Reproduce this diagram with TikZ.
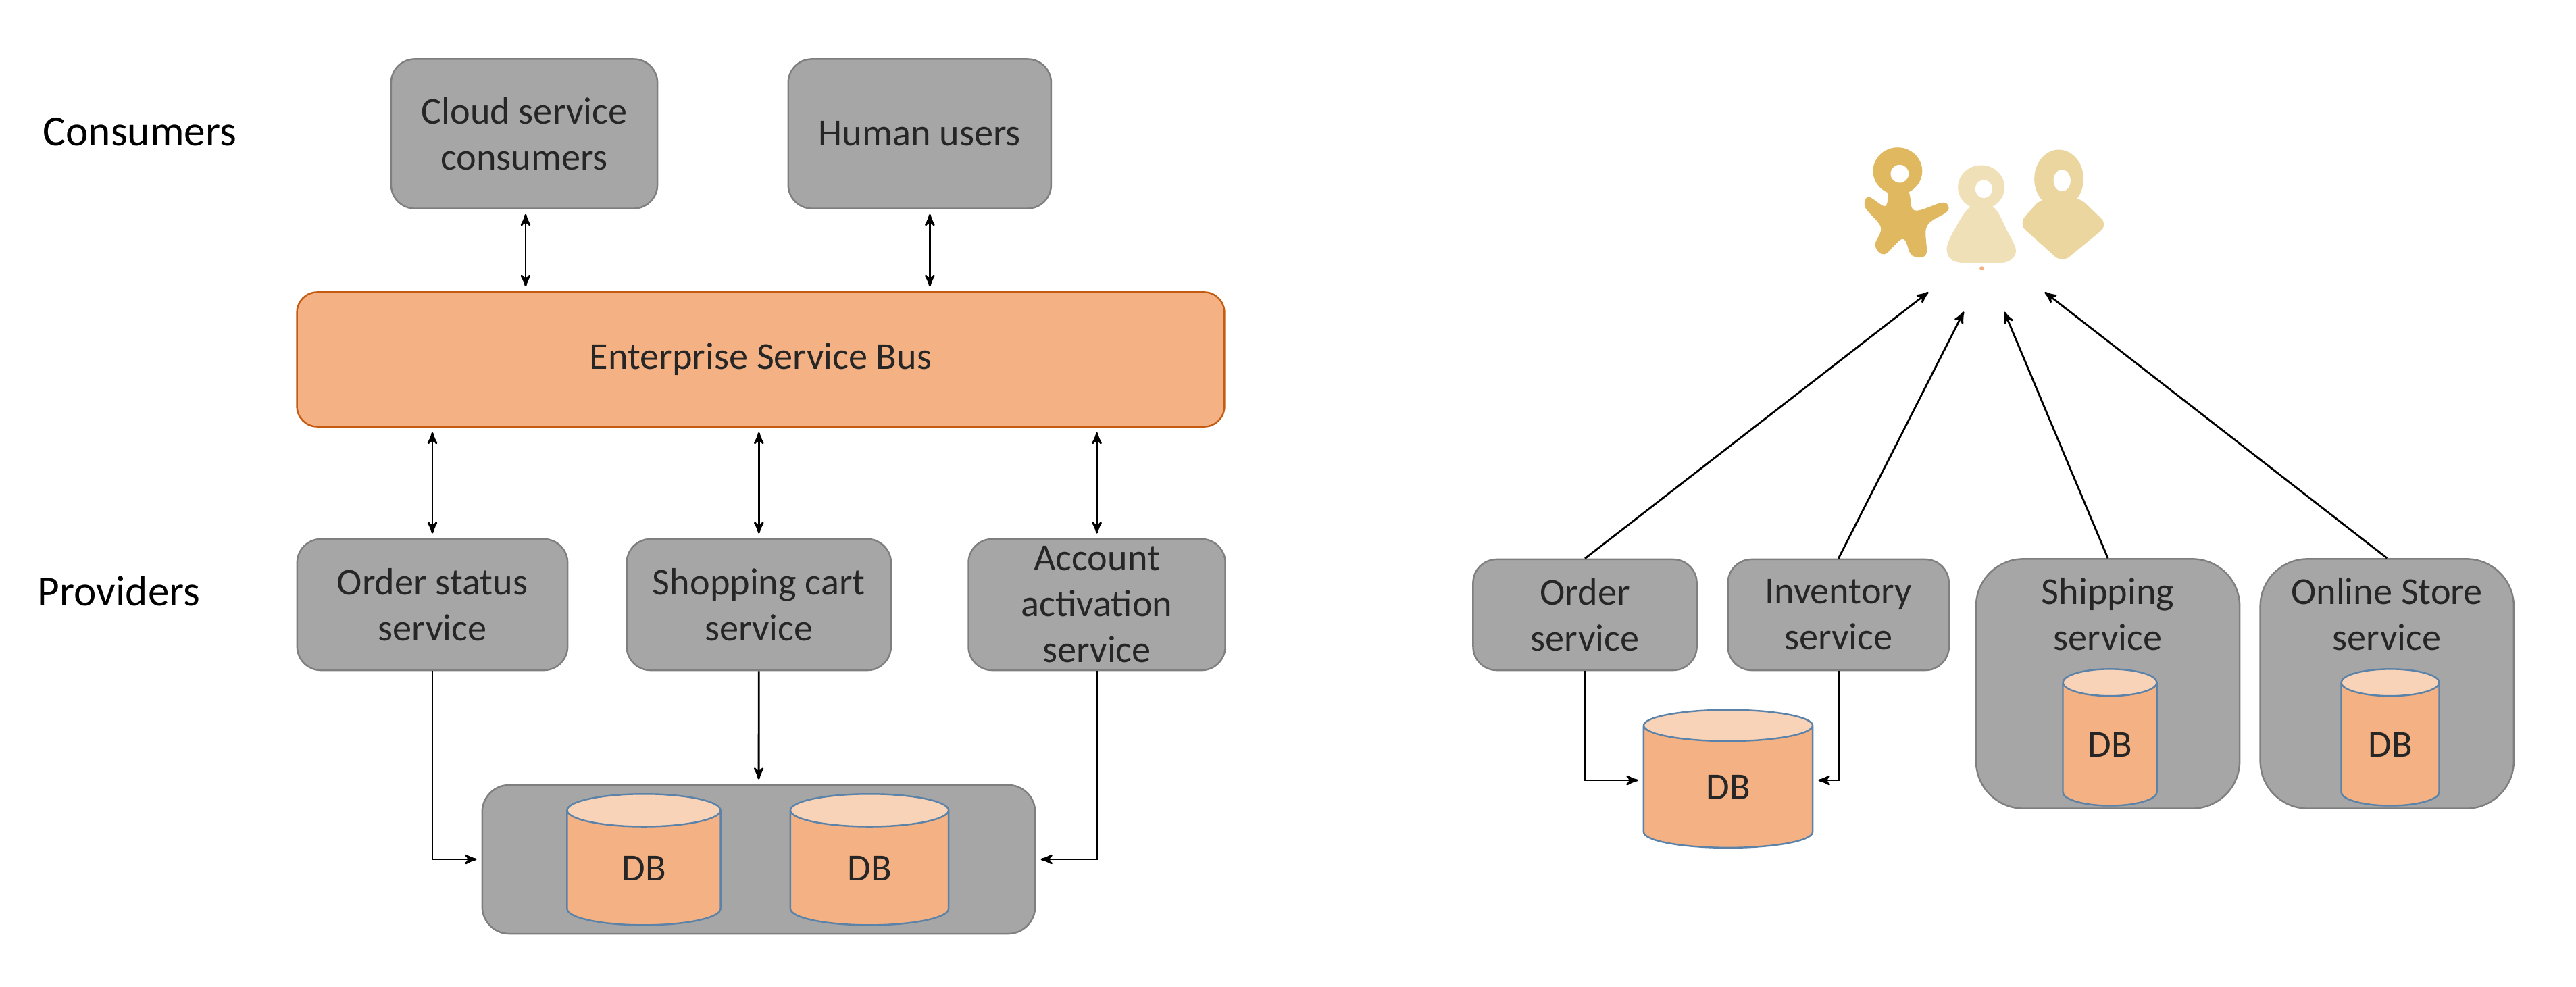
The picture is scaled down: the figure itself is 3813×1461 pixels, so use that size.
\documentclass[tikz,border=0pt]{standalone}
\usepackage{fontspec}
\setmainfont{Carlito}
\usepackage{tikz}
\usetikzlibrary{positioning}
\usetikzlibrary{arrows,shapes.geometric}

\definecolor{boxgray}{HTML}{A6A6A6}
\definecolor{boxline}{HTML}{7F7F7F}
\definecolor{busfill}{HTML}{F4B183}
\definecolor{busline}{HTML}{C55A11}
\definecolor{dbtop}{HTML}{F8D3B8}
\definecolor{dbline}{HTML}{5B82A8}
\definecolor{inktext}{HTML}{262626}
\definecolor{figa}{HTML}{E0B860}
\definecolor{figb}{HTML}{F0E0B8}
\definecolor{figc}{HTML}{EBD6A0}

\tikzset{
  service/.style={draw=boxline,fill=boxgray,line width=0.7pt,rounded corners=0.35cm,
    align=center,inner sep=0pt,minimum height=1.94cm,text=inktext},
  holder/.style={service,rounded corners=0.7cm},
  bus/.style={draw=busline,fill=busfill,line width=0.7pt,rounded corners=0.3cm,
    align=center,inner sep=0pt,text=inktext},
  db/.style={cylinder,shape border rotate=90,draw=dbline,line width=0.7pt,
    cylinder uses custom fill,cylinder body fill=busfill,cylinder end fill=dbtop,
    inner sep=0pt,text=inktext},
  caption/.style={inner sep=0pt,text=black,font=\fontsize{18}{19.3}\selectfont}
}

\begin{document}
\begin{tikzpicture}[x=0.01cm,y=-0.01cm,>=stealth',shorten >=2pt,auto,
    every node/.style={font=\fontsize{16}{19.3}\selectfont}]
  \useasboundingbox (0,0) rectangle (3813,1461);

  \node[caption] (Consumers) at (207,195) {Consumers};
  \node[caption] (Providers) at (176,875) {Providers};

  \node[service,minimum width=3.94cm,minimum height=2.21cm] (Cloud) at (776,198) {Cloud service\\consumers};
  \node[service,minimum width=3.89cm,minimum height=2.21cm] (Human) [right of=Cloud,node distance=5.85cm] {Human users};
  \node[bus,minimum width=13.72cm,minimum height=1.99cm] (Esb) at (1126,532) {Enterprise Service Bus};

  \node[service,minimum width=4cm] (OrderStatus) at (640,895) {Order status\\service};
  \node[service,minimum width=3.91cm] (Cart) [right of=OrderStatus,node distance=4.83cm] {Shopping cart\\service};
  \node[service,minimum width=3.8cm] (Account) [right of=Cart,node distance=5cm] {Account\\activation\\service};

  \node[service,rounded corners=0.4cm,minimum width=8.18cm,minimum height=2.2cm] (Storage) at (1123,1272) {};
  \node[db,aspect=0.74,minimum width=2.27cm,minimum height=1.94cm] (DbOne) at (953,1285) {DB};
  \node[db,aspect=0.74,minimum width=2.34cm,minimum height=1.94cm] (DbTwo) at (1287,1285) {DB};

  \node[service,minimum width=3.31cm,minimum height=1.64cm] (Order) at (2346,910) {Order\\service};
  \node[service,minimum width=3.27cm,minimum height=1.64cm] (Inventory) [right of=Order,node distance=3.75cm] {Inventory\\service};
  \node[db,aspect=0.71,minimum width=2.5cm,minimum height=2.04cm] (DbShared) at (2558,1165) {DB};

  \node[holder,minimum width=3.9cm,minimum height=3.69cm] (Shipping) at (3120,1012) {};
  \node[holder,minimum width=3.75cm,minimum height=3.69cm] (Online) [right of=Shipping,node distance=4.13cm] {};
  \node[caption,align=center,text=inktext,font=\fontsize{16}{19.3}\selectfont] (ShippingText) at (3120,909) {Shipping\\service};
  \node[caption,align=center,text=inktext,font=\fontsize{16}{19.3}\selectfont] (OnlineText) at (3533,909) {Online Store\\service};
  \node[db,aspect=0.61,minimum width=1.39cm,minimum height=2.02cm] (DbShip) at (3123,1102) {DB};
  \node[db,aspect=0.61,minimum width=1.45cm,minimum height=2.02cm] (DbOnline) at (3538,1102) {DB};

  \coordinate (FigOrder) at (2860,428);
  \coordinate (FigInventory) at (2910,455);
  \coordinate (FigShipping) at (2964,455);
  \coordinate (FigOnline) at (3021,428);

  \path[<->,line width=0.8pt,shorten <=2pt]
    ([xshift=0.02cm]Cloud.south) edge ([xshift=0.02cm]Cloud.south |- Esb.north)
    ([xshift=0.15cm]Human.south) edge ([xshift=0.15cm]Human.south |- Esb.north)
    (OrderStatus.north) edge (OrderStatus.north |- Esb.south)
    (Cart.north) edge (Cart.north |- Esb.south)
    (Account.north) edge (Account.north |- Esb.south);
  \draw[->,line width=0.8pt] (OrderStatus) |- (Storage);
  \draw[->,line width=0.8pt] (Cart) -- (Storage);
  \draw[->,line width=0.8pt] (Account) |- (Storage);
  \draw[->,line width=0.8pt] (Order) |- ([yshift=0.1cm]DbShared.west);
  \draw[->,line width=0.8pt] (Inventory) |- ([yshift=0.1cm]DbShared.east);
  \path[->,line width=0.8pt]
    (Order.north) edge (FigOrder)
    (Inventory.north) edge (FigInventory)
    (Shipping.north) edge (FigShipping)
    (Online.north) edge (FigOnline);

  \begin{scope}[shift={(2600,150)},x=0.00383cm,y=-0.00333cm]
    \fill[figa] (545,310) ellipse [x radius=95,y radius=105];
    \fill[figa] plot[smooth cycle,tension=0.6] coordinates {(515,400) (505,450) (490,465) (432,425)
      (420,472) (480,560) (458,640) (495,680) (565,612) (600,685) (655,680) (658,555) (738,488)
      (720,450) (610,485) (585,400)};
    \fill[white] (553,322) ellipse [x radius=35,y radius=40];
    \fill[figb] (868,382) ellipse [x radius=90,y radius=98];
    \fill[figb] plot[smooth cycle,tension=0.5] coordinates {(825,470) (760,580) (735,650) (745,695)
      (790,718) (950,718) (995,690) (1000,650) (970,580) (915,470)};
    \fill[white] (878,390) ellipse [x radius=33,y radius=40];
    \fill[figc] (1168,345) ellipse [x radius=95,y radius=130];
    \fill[figc,rounded corners=0.14cm] (1100,430) -- (1012,545) -- (1180,718) -- (1358,550) -- (1245,425) -- cycle;
    \fill[white] (1180,352) ellipse [x radius=33,y radius=48];
    \fill[busfill] (870,742) circle [x radius=9,y radius=8];
  \end{scope}
\end{tikzpicture}
\end{document}
